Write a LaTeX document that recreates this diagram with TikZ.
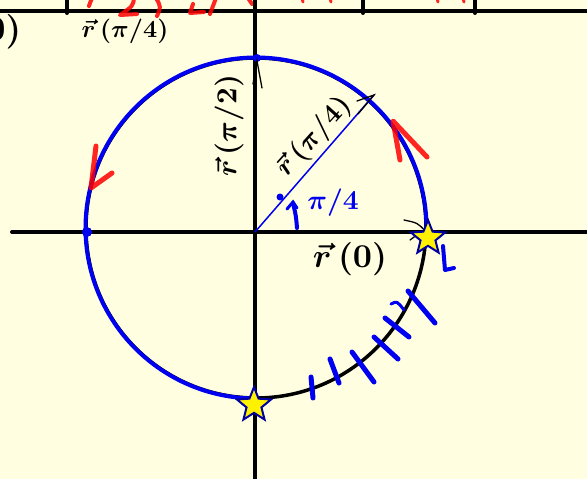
\documentclass[tikz,border=0pt]{standalone}
\usepackage{amsmath}
\usetikzlibrary{shapes.geometric}
\definecolor{bg}{HTML}{FFFEE0}
\definecolor{pen}{HTML}{0000F0}
\definecolor{navy}{HTML}{0000A0}
\tikzset{
  axis/.style={line width=4pt, line cap=round},
  bluepen/.style={pen, line width=4.5pt, line cap=round},
  redpen/.style={red, line width=4pt, line cap=round, line join=round, opacity=0.85},
  thinblack/.style={line width=1.3pt, line cap=round},
  starmark/.style={star, star points=5, star point ratio=2.3, minimum size=36pt, inner sep=0pt, fill=yellow, draw=navy, line width=2pt},
  lbl/.style={inner sep=0pt, font=\boldmath, scale=2.9},
  dot/.style={circle, fill=pen, inner sep=0pt, minimum size=#1}
}
\begin{document}
\begin{tikzpicture}[x=1pt,y=-1pt]
\useasboundingbox (0,0) rectangle (587,479);
\fill[bg] (0,0) rectangle (587,479);
\clip (0,0) rectangle (587,479);
% top strip
\draw[axis] (-5,11) -- (592,11);
\foreach \xx in {67,363,475} \draw[axis] (\xx,-5) -- (\xx,13);
% red fragments at the top
\draw[redpen] (92,-2) .. controls (90,3) .. (89,6);
\draw[redpen] (134,-2) .. controls (133,6) .. (120,15) -- (137,14);
\draw[redpen] (156,-2) .. controls (161,7) .. (157,16);
\draw[redpen] (193,4) .. controls (192,9) .. (190,13) -- (204,12);
\draw[redpen] (216,-2) -- (210,14);
\draw[redpen] (248,-2) -- (252,4);
\foreach \xx in {302,330,437,463} \draw[redpen, line width=3pt] (\xx,-2) -- (\xx+1,2);
% top labels
\node[lbl, anchor=east, scale=1.2] (lab0) at (22,32) {$(0)$};
\node[lbl, scale=0.85] (labtop) at (125,31) {$\vec{r}\,(\pi/4)$};
% axes
\coordinate (O) at (255,232);
\draw[axis] (12,232) -- (592,232);
\draw[axis] (255,-5) -- (255,484);
% circle
\draw[line width=3.5pt] (256,228) circle[radius=170];
% blue traced arc (from bottom clockwise to right)
\draw[bluepen, line width=4pt] (256,398.5) arc[start angle=90, end angle=360, radius=170.5];
\node[dot=10pt] (dl) at (87,232) {};
\node[dot=8pt] (dt) at (257,58) {};
% pi/4 vector
\coordinate (P) at (374,95);
\draw[pen, line width=1.5pt] (O) -- (P);
\draw[thinblack] (358,114) -- (P) -- (357,101);
\node[dot=7pt] (dm) at (280,197) {};
\draw[pen, line width=4pt, line cap=round] (297,228) .. controls (296,216) .. (293,203);
\draw[pen, line width=3pt, line cap=round] (287,209) -- (293,202) -- (297,208);
\node[lbl, text=pen, font=\bfseries\boldmath, scale=0.95] (api) at (333,203) {$\pi$/4};
\node[lbl, rotate=48, scale=0.95] (lr4) at (314,137) {$\vec{r}\,(\pi/4)$};
% pi/2 vector
\draw[thinblack] (262,88) -- (257,61) -- (253,84);
\node[lbl, rotate=90] (lr2) at (229,126) {$\vec{r}\,(\pi/2)$};
% r(0)
\draw[thinblack] (404,220) .. controls (418,223) .. (426,232) .. controls (418,234) .. (410,240);
\node[lbl, scale=1.15] (lr0) at (350,259) {$\vec{r}\,(0)$};
% red direction arrows
\draw[redpen, line width=5pt] (400,160) -- (393,121) -- (427,157);
\draw[redpen, line width=5pt] (96,146) -- (91,188) -- (112,173);
% tick marks
\foreach \ax/\ay/\bx/\by in {311/377/313/398, 330/359/339/383, 352/352/374/382, 374/337/398/359, 385/318/409/337, 408/291/435/323}
  \draw[bluepen, line width=5pt] (\ax,\ay) -- (\bx,\by);
\draw[bluepen, line width=3pt] (391,304) .. controls (397,301) .. (404,310);
% stars
\node[starmark] (s1) at (428,238) {};
\node[starmark] (s2) at (254,405) {};
% blue L
\draw[bluepen, line width=4pt, line join=round] (443,246) -- (445,270) -- (454,268);
\end{tikzpicture}
\end{document}
